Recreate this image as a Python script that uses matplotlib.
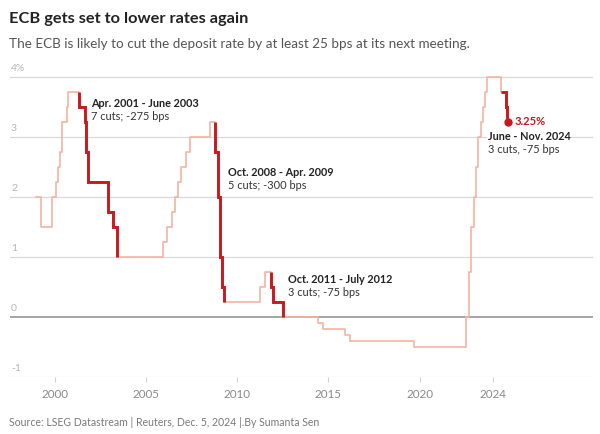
import matplotlib
matplotlib.use("Agg")
import matplotlib.pyplot as plt
import matplotlib.transforms as mtransforms
import pandas as pd

# ECB deposit facility rate (step changes)
dates = ["1999-01-01", "1999-04-09", "1999-11-05", "2000-02-04", "2000-03-17",
         "2000-04-28", "2000-06-09", "2000-09-01", "2000-10-06", "2001-05-11",
         "2001-08-31", "2001-09-18", "2001-11-09", "2002-12-06", "2003-03-07",
         "2003-06-06", "2005-12-06", "2006-03-08", "2006-06-15", "2006-08-09",
         "2006-10-11", "2006-12-13", "2007-03-14", "2007-06-13", "2008-07-09",
         "2008-10-08", "2008-12-10", "2009-01-21", "2009-03-11", "2009-04-08",
         "2011-04-13", "2011-07-13", "2011-11-09", "2011-12-14", "2012-07-11",
         "2014-06-11", "2014-09-10", "2015-12-09", "2016-03-16", "2019-09-18",
         "2022-07-27", "2022-09-14", "2022-11-02", "2022-12-21", "2023-02-08",
         "2023-03-22", "2023-05-10", "2023-06-21", "2023-08-02", "2023-09-20",
         "2024-06-12", "2024-09-18", "2024-10-23", "2024-11-01"]
rates = [2.00, 1.50, 2.00, 2.25, 2.50,
         2.75, 3.25, 3.50, 3.75, 3.50,
         3.25, 2.75, 2.25, 1.75, 1.50,
         1.00, 1.25, 1.50, 1.75, 2.00,
         2.25, 2.50, 2.75, 3.00, 3.25,
         2.75, 2.00, 1.00, 0.50, 0.25,
         0.50, 0.75, 0.50, 0.25, 0.00,
         -0.10, -0.20, -0.30, -0.40, -0.50,
         0.00, 0.75, 1.50, 2.00, 2.50,
         3.00, 3.25, 3.50, 3.75, 4.00,
         3.75, 3.50, 3.25, 3.25]

# cutting cycles highlighted
hl_start = ["2001-05-11", "2008-10-08", "2011-11-09", "2024-06-12"]
hl_end = ["2003-06-06", "2009-04-08", "2012-07-11", "2024-11-01"]
hl_with_first_drop = [True, True, True, False]
hl_title = ["Apr. 2001 - June 2003", "Oct. 2008 - Apr. 2009",
            "Oct. 2011 - July 2012", "June - Nov. 2024"]
hl_detail = ["7 cuts; -275 bps", "5 cuts; -300 bps", "3 cuts; -75 bps",
             "3 cuts, -75 bps"]

ytick_vals = [-1, 0, 1, 2, 3, 4]
ytick_labels = ["-1", "0", "1", "2", "3", "4%"]
xtick_vals = [2000, 2005, 2010, 2015, 2020, 2024]
xtick_labels = ["2000", "2005", "2010", "2015", "2020", "2024"]


def dec_year(s):
    t = pd.Timestamp(s)
    n = 366 if t.is_leap_year else 365
    return t.year + (t.dayofyear - 1) / n


x = [dec_year(d) for d in dates]
y = rates

LIGHT = "#f4b4a3"
RED = "#c8191f"
FONT = "Lato"
plt.rcParams["font.family"] = [FONT, "DejaVu Sans"]

W, H = 600, 434
fig = plt.figure(figsize=(W / 100, H / 100), dpi=100)

ax_left, ax_right = 9.6, 593.0
y_bot_px = 376.7
px_per_unit = 60.0
ymin, ymax = -1.0, 4.1
y_top_px = y_bot_px - (ymax - ymin) * px_per_unit
ax = fig.add_axes([ax_left / W, (H - y_bot_px) / H,
                   (ax_right - ax_left) / W, (y_bot_px - y_top_px) / H])
ax.set_xlim(1997.54, 2029.5)
ax.set_ylim(ymin, ymax)
for s in ax.spines.values():
    s.set_visible(False)
ax.set_yticks([])

# grid lines
for v in ytick_vals:
    if v == 0:
        ax.axhline(v, color="#8c8c8c", lw=1.1, zorder=2)
    else:
        ax.axhline(v, color="#d9d9d9", lw=0.9, zorder=1)

# y labels above grid lines
trans = mtransforms.blended_transform_factory(ax.transAxes, ax.transData)
off = mtransforms.offset_copy(trans, fig=fig, x=1, y=2.5, units="points")
for v, lab in zip(ytick_vals, ytick_labels):
    ax.text(0.0, v, lab, transform=off, ha="left", va="bottom",
            fontsize=7.5, color="#b5b5b5")

# x ticks
ax.set_xticks(xtick_vals)
ax.set_xticklabels(xtick_labels)
ax.tick_params(axis="x", direction="out", length=3.5, width=0.8,
               color="#cfcfcf", labelcolor="#8a8a8a", labelsize=8.4, pad=5)

# base line
ax.step(x, y, where="post", color=LIGHT, lw=1.2, zorder=3)

# highlighted cycles
for s, e, fd in zip(hl_start, hl_end, hl_with_first_drop):
    xs, xe = dec_year(s), dec_year(e)
    idx = [i for i, xi in enumerate(x) if xs <= xi <= xe]
    sx = [x[i] for i in idx]
    sy = [y[i] for i in idx]
    if fd:
        sx = [sx[0]] + sx
        sy = [y[idx[0] - 1]] + sy
    ax.step(sx, sy, where="post", color=RED, lw=2.1, zorder=4,
            solid_capstyle="butt", solid_joinstyle="miter")

# end dot
ax.plot([x[-1]], [y[-1]], "o", color=RED, ms=5, zorder=5, clip_on=False)


def px2data(px, py):
    disp = (px, H - py)
    return ax.transData.inverted().transform(disp)


# annotations (pixel positions of text left / vertical centre)
ann_pos = [(91, 103.3, 116.7), (227.7, 172.7, 186), (287.7, 279.3, 292.3),
           (487.7, 136.7, 149.3)]
for (px, py1, py2), t1, t2 in zip(ann_pos, hl_title, hl_detail):
    xd, yd1 = px2data(px, py1)
    _, yd2 = px2data(px, py2)
    bbox = dict(facecolor="white", edgecolor="none", pad=0.6) if "2024" in t1 else None
    ax.text(xd, yd1, t1, fontsize=7.8, fontweight="bold", color="#222222",
            ha="left", va="center", zorder=6, bbox=bbox)
    ax.text(xd, yd2, t2, fontsize=7.9, color="#333333", ha="left",
            va="center", zorder=6)

xd, yd = px2data(514.3, 122)
ax.text(xd, yd, f"{y[-1]:.2f}%", fontsize=8, fontweight="bold", color=RED,
        ha="left", va="center", zorder=6)

# titles
fig.text(9 / W, 1 - 19 / H, "ECB gets set to lower rates again", fontsize=11.8,
         fontweight="bold", color="#222222", ha="left", va="center")
fig.text(9 / W, 1 - 44 / H,
         "The ECB is likely to cut the deposit rate by at least 25 bps at its next meeting.",
         fontsize=9.7, color="#555555", ha="left", va="center")
fig.text(9 / W, 1 - 422 / H,
         "Source: LSEG Datastream | Reuters, Dec. 5, 2024 |.By Sumanta Sen",
         fontsize=7.6, color="#7a7a7a", ha="left", va="center")

fig.savefig("out.png", dpi=100)
